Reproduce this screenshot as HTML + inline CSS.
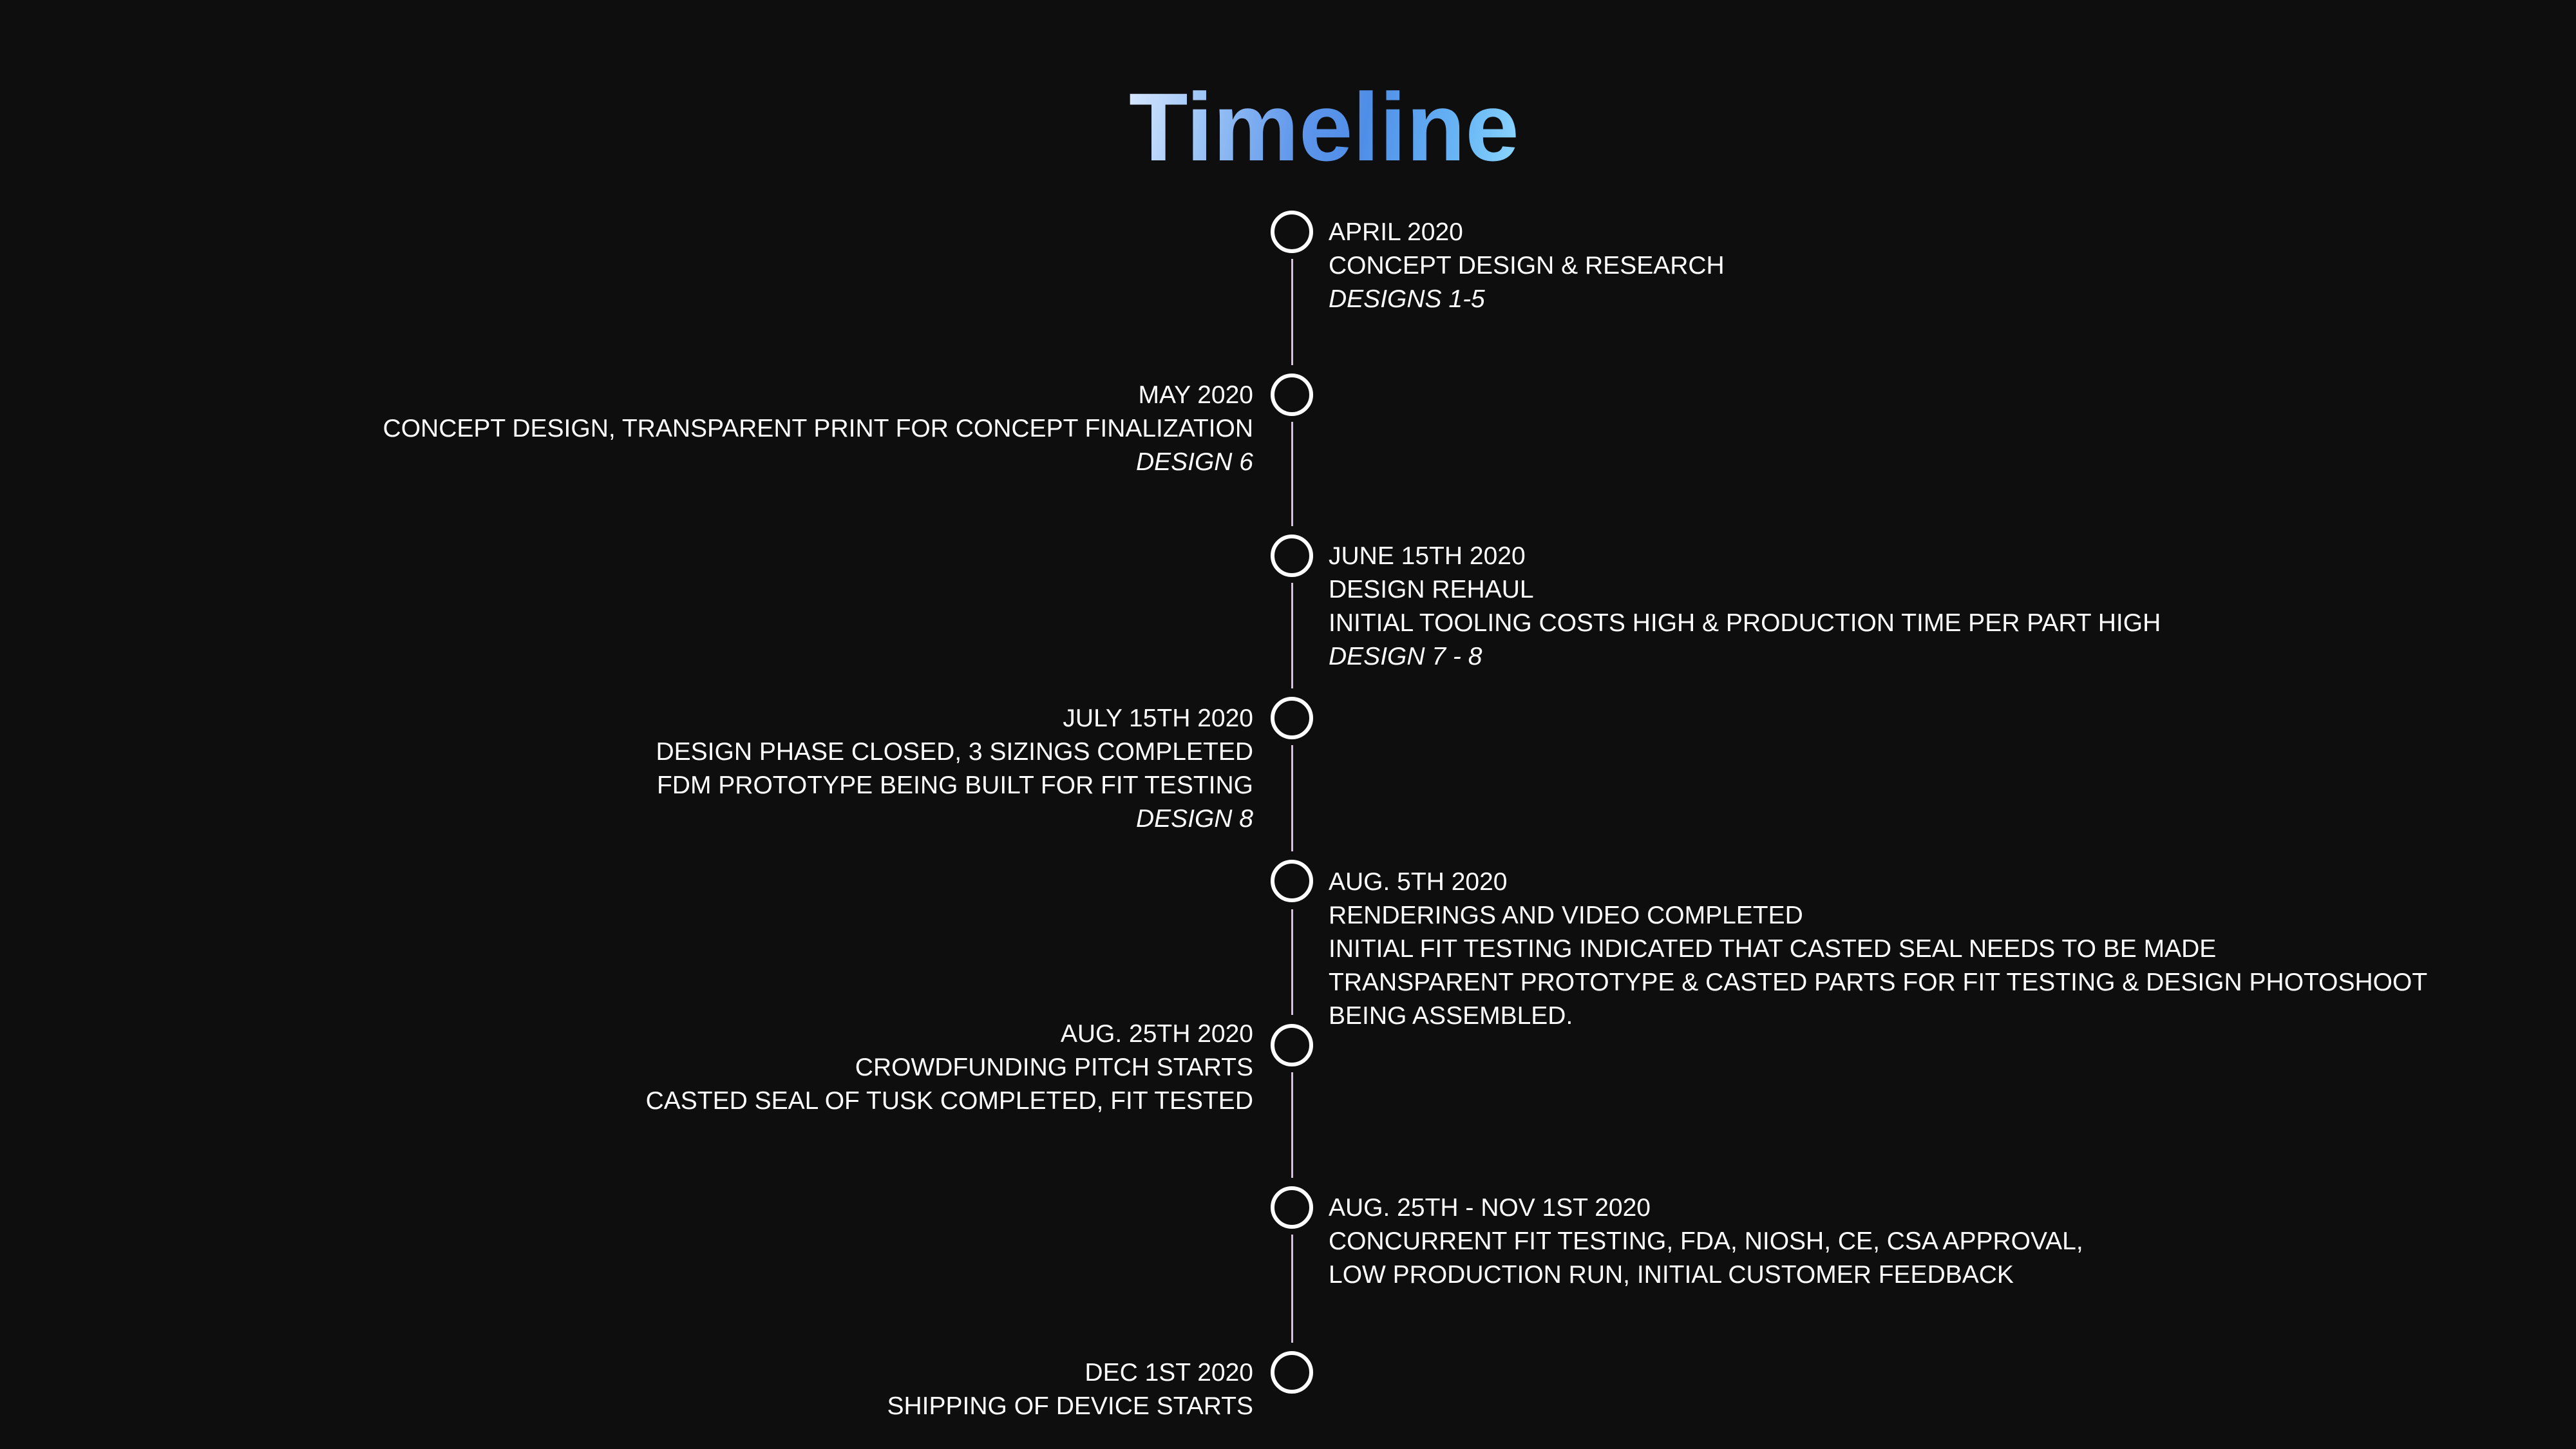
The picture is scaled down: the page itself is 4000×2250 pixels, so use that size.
<!DOCTYPE html>
<html><head><meta charset="utf-8"><style>
html,body{margin:0;padding:0;background:#0e0e0e;}
body{width:4000px;height:2250px;position:relative;overflow:hidden;font-family:"Liberation Sans",sans-serif;color:#fff;}
.title{position:absolute;left:1753px;top:112px;font-size:150px;font-weight:bold;line-height:170px;letter-spacing:0px;
background:linear-gradient(100deg,#d8e8ff 0%,#9cc4f6 20%,#5d95ea 45%,#4f8ee8 60%,#6ab8f6 85%,#8fd8ff 100%);
-webkit-background-clip:text;background-clip:text;color:transparent;}
.c{position:absolute;width:54px;height:54px;border:6px solid #fff;border-radius:50%;left:1973px;}
.l{position:absolute;left:2005px;width:3px;background:#d9bfe3;}
.t{position:absolute;font-size:39px;line-height:52px;white-space:nowrap;}
.r{left:2063px;}
.lf{right:2054px;text-align:right;}
i{font-style:italic;}
</style></head><body>
<div class="title">Timeline</div>

<div class="c" style="top:327px"></div>
<div class="c" style="top:580px"></div>
<div class="c" style="top:830px"></div>
<div class="c" style="top:1082px"></div>
<div class="c" style="top:1335px"></div>
<div class="c" style="top:1590px"></div>
<div class="c" style="top:1842px"></div>
<div class="c" style="top:2098px"></div>

<div class="l" style="top:402px;height:165px"></div>
<div class="l" style="top:655px;height:162px"></div>
<div class="l" style="top:905px;height:164px"></div>
<div class="l" style="top:1157px;height:165px"></div>
<div class="l" style="top:1412px;height:164px"></div>
<div class="l" style="top:1665px;height:164px"></div>
<div class="l" style="top:1917px;height:168px"></div>

<div class="t r" style="top:335px">APRIL 2020<br>CONCEPT DESIGN &amp; RESEARCH<br><i>DESIGNS 1-5</i></div>
<div class="t lf" style="top:588px">MAY 2020<br>CONCEPT DESIGN, TRANSPARENT PRINT FOR CONCEPT FINALIZATION<br><i>DESIGN 6</i></div>
<div class="t r" style="top:838px">JUNE 15TH 2020<br>DESIGN REHAUL<br>INITIAL TOOLING COSTS HIGH &amp; PRODUCTION TIME PER PART HIGH<br><i>DESIGN 7 - 8</i></div>
<div class="t lf" style="top:1090px">JULY 15TH 2020<br>DESIGN PHASE CLOSED, 3 SIZINGS COMPLETED<br>FDM PROTOTYPE BEING BUILT FOR FIT TESTING<br><i>DESIGN 8</i></div>
<div class="t r" style="top:1344px">AUG. 5TH 2020<br>RENDERINGS AND VIDEO COMPLETED<br>INITIAL FIT TESTING INDICATED THAT CASTED SEAL NEEDS TO BE MADE<br>TRANSPARENT PROTOTYPE &amp; CASTED PARTS FOR FIT TESTING &amp; DESIGN PHOTOSHOOT<br>BEING ASSEMBLED.</div>
<div class="t lf" style="top:1580px">AUG. 25TH 2020<br>CROWDFUNDING PITCH STARTS<br>CASTED SEAL OF TUSK COMPLETED, FIT TESTED</div>
<div class="t r" style="top:1850px">AUG. 25TH - NOV 1ST 2020<br>CONCURRENT FIT TESTING, FDA, NIOSH, CE, CSA APPROVAL,<br>LOW PRODUCTION RUN, INITIAL CUSTOMER FEEDBACK</div>
<div class="t lf" style="top:2106px">DEC 1ST 2020<br>SHIPPING OF DEVICE STARTS</div>
</body></html>
